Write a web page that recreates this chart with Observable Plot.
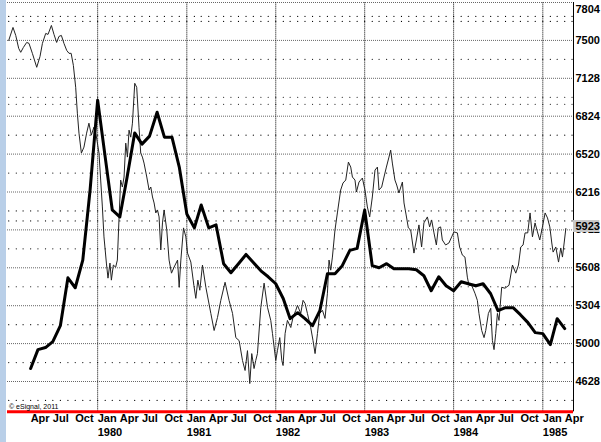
<!DOCTYPE html>
<html><head><meta charset="utf-8">
<script src="https://cdn.jsdelivr.net/npm/d3@7"></script>
<script src="https://cdn.jsdelivr.net/npm/@observablehq/plot@0.6"></script>
<style>
html,body{margin:0;padding:0;background:#fff;}
#wrap{position:relative;width:601px;height:442px;overflow:hidden;}
#edge{position:absolute;left:0;top:0;width:6px;height:442px;background:#b9cfe8;}
</style></head><body>
<div id="wrap"><div id="chart"></div><div id="edge"></div></div>
<script>
// ---- data ----
const yTicks = [4628, 5000, 5304, 5608, 5912, 6216, 6520, 6824, 7128, 7500, 7804];
const yTop = 7804;
const yFloor = 4330;
const minorLevels = [4442, 4814, 5152, 5456, 5760, 6064, 6368, 6672, 6976, 7314, 7652, 7692, 6920, 5984];
const monthNames = ["Jan", "Apr", "Jul", "Oct"];
const lastValue = 5923;

const thickMonths = [
  "1979-04","1979-05","1979-06","1979-07","1979-08","1979-09","1979-10","1979-11","1979-12",
  "1980-01","1980-02","1980-03","1980-04","1980-05","1980-06","1980-07","1980-08","1980-09","1980-10","1980-11","1980-12",
  "1981-01","1981-02","1981-03","1981-04","1981-05","1981-06","1981-07","1981-08","1981-09","1981-10","1981-11","1981-12",
  "1982-01","1982-02","1982-03","1982-04","1982-05","1982-06","1982-07","1982-08","1982-09","1982-10","1982-11","1982-12",
  "1983-01","1983-02","1983-03","1983-04","1983-05","1983-06","1983-07","1983-08","1983-09","1983-10","1983-11","1983-12",
  "1984-01","1984-02","1984-03","1984-04","1984-05","1984-06","1984-07","1984-08","1984-09","1984-10","1984-11","1984-12",
  "1985-01","1985-02","1985-03","1985-04"];
const thickValues = [
  4755, 4941, 4961, 5016, 5144, 5528, 5448, 5670, 6232,
  6952, 6496, 6072, 6016, 6336, 6690, 6600, 6664, 6856, 6656, 6656, 6416,
  6040, 5928, 6112, 5928, 5952, 5641, 5568, 5641, 5715, 5650, 5584, 5536,
  5480, 5360, 5200, 5248, 5200, 5144, 5264, 5560, 5560, 5625, 5748, 5764,
  6072, 5625, 5608, 5641, 5600, 5600, 5600, 5592, 5544, 5424, 5536, 5464,
  5424, 5496, 5480, 5464, 5480, 5400, 5264, 5288, 5288, 5232, 5168, 5088,
  5080, 4990, 5200, 5120];

const thinTime = [
  1979.000,1979.048,1979.079,1979.112,1979.135,1979.165,1979.202,1979.228,1979.266,1979.315,
  1979.352,1979.379,1979.416,1979.442,1979.480,1979.509,1979.539,1979.565,1979.592,1979.621,
  1979.652,1979.678,1979.702,1979.727,1979.753,1979.772,1979.790,1979.817,1979.846,1979.876,
  1979.902,1979.929,1979.958,1979.983,1980.015,1980.034,1980.053,1980.071,1980.098,1980.116,
  1980.138,1980.154,1980.176,1980.202,1980.221,1980.239,1980.258,1980.277,1980.296,1980.315,
  1980.334,1980.352,1980.371,1980.390,1980.416,1980.438,1980.464,1980.483,1980.502,1980.520,
  1980.551,1980.577,1980.596,1980.615,1980.633,1980.652,1980.671,1980.689,1980.708,1980.727,
  1980.745,1980.775,1980.801,1980.828,1980.857,1980.896,1980.914,1980.933,1980.963,1980.989,
  1981.008,1981.045,1981.079,1981.101,1981.124,1981.146,1981.176,1981.214,1981.270,1981.307,
  1981.345,1981.382,1981.430,1981.475,1981.514,1981.551,1981.588,1981.626,1981.655,1981.682,
  1981.708,1981.730,1981.756,1981.775,1981.794,1981.832,1981.869,1981.907,1981.944,1981.963,
  1982.000,1982.019,1982.045,1982.068,1982.082,1982.105,1982.131,1982.169,1982.194,1982.225,
  1982.244,1982.281,1982.307,1982.329,1982.356,1982.393,1982.419,1982.442,1982.469,1982.494,
  1982.525,1982.554,1982.581,1982.599,1982.618,1982.637,1982.666,1982.693,1982.730,1982.756,
  1982.787,1982.817,1982.843,1982.862,1982.891,1982.907,1982.936,1982.974,1983.003,1983.030,
  1983.056,1983.086,1983.116,1983.143,1983.161,1983.191,1983.217,1983.244,1983.273,1983.292,
  1983.311,1983.340,1983.360,1983.385,1983.424,1983.442,1983.466,1983.491,1983.517,1983.554,
  1983.581,1983.610,1983.640,1983.666,1983.705,1983.730,1983.753,1983.779,1983.806,1983.828,
  1983.854,1983.873,1983.910,1983.947,1983.978,1984.003,1984.042,1984.067,1984.098,1984.127,
  1984.154,1984.172,1984.202,1984.239,1984.266,1984.284,1984.315,1984.341,1984.360,1984.390,
  1984.416,1984.435,1984.453,1984.472,1984.491,1984.509,1984.539,1984.576,1984.621,1984.660,
  1984.697,1984.727,1984.753,1984.779,1984.801,1984.831,1984.857,1984.884,1984.913,1984.940,
  1984.966,1984.994,1985.026,1985.053,1985.079,1985.101,1985.116,1985.146,1985.177,1985.202,
  1985.221,1985.240,1985.259];
const thinValue = [
  7500,7604,7540,7422,7383,7431,7480,7471,7373,7236,
  7343,7471,7556,7548,7620,7548,7480,7532,7540,7471,
  7402,7373,7373,7255,7056,6848,6688,6528,6576,6688,
  6768,6672,6736,6672,6528,6312,6096,5856,5646,5525,
  5646,5509,5630,5613,5670,5992,6312,6256,6336,6608,
  6496,6712,6656,6768,7088,7056,6736,6528,6496,6448,
  6336,6232,6256,6176,6128,6048,6072,6016,5751,5968,
  6072,5912,5670,5565,5613,5670,5452,5670,5928,5856,
  5726,5654,5468,5363,5509,5428,5630,5452,5242,5105,
  5210,5347,5492,5347,5242,5048,5024,4834,4736,4931,
  4608,4902,4755,4834,4902,5291,5485,5291,5186,5081,
  4834,4931,5048,4834,4785,5081,5186,5129,5210,5267,
  5307,5242,5347,5323,5242,5129,5024,4902,5081,5242,
  5267,5202,5404,5670,5589,5694,5912,6048,6232,6288,
  6312,6456,6416,6336,6312,6216,6296,6328,6232,6096,
  6016,6176,6392,6416,6232,6256,6336,6416,6496,6552,
  6448,6312,6272,6208,6296,6128,6032,5928,5912,5726,
  5831,5952,5775,5968,6016,5936,5992,5888,5791,5928,
  5936,5831,5791,5807,5856,5896,5888,5775,5710,5694,
  5533,5468,5468,5404,5347,5242,5105,5048,5105,5242,
  5283,5024,4941,5081,5242,5186,5452,5444,5468,5630,
  5565,5630,5775,5791,5888,5888,6048,5856,5968,5896,
  5831,5928,6048,6008,5936,5807,5734,5775,5654,5767,
  5694,5807,5923];

// ---- build ----
function yearToDate(t) {
  const y = Math.floor(t);
  const a = Date.UTC(y, 0, 1), b = Date.UTC(y + 1, 0, 1);
  return new Date(a + (t - y) * (b - a));
}
const xStart = new Date(Date.UTC(1978, 11, 27));
const xEnd = new Date(Date.UTC(1985, 4, 7));
const thin = thinTime.map((t, i) => ({date: yearToDate(t), value: thinValue[i]}));
const thick = thickMonths.map((m, i) => ({date: new Date(m + "-01T00:00:00Z"), value: thickValues[i]}));
const months = d3.utcMonth.range(new Date(Date.UTC(1979, 0, 1)), xEnd);
const quarters = d3.utcMonth.every(3).range(new Date(Date.UTC(1979, 3, 1)), xEnd);
const years = d3.utcYear.range(new Date(Date.UTC(1980, 0, 1)), xEnd);
const minorDots = months.flatMap(d => minorLevels.map(v => ({date: d, value: v})));
const font = {fontSize: 11, fontWeight: "bold", fill: "#000"};

const chart = Plot.plot({
  width: 601, height: 442,
  marginLeft: 7, marginRight: 28, marginTop: 2, marginBottom: 61,
  x: {type: "utc", domain: [xStart, xEnd], axis: null},
  y: {type: "linear", domain: yTicks, axis: null},
  style: {fontFamily: "'Liberation Sans', Arial, sans-serif", background: "transparent"},
  marks: [
    Plot.dot(minorDots, {x: "date", y: "value", r: 0.6, fill: "#000", stroke: null}),
    Plot.ruleY(yTicks, {stroke: "#666", strokeDasharray: "1,1"}),
    Plot.ruleX(years, {y1: yFloor, y2: yTop, stroke: "#000", strokeDasharray: "1,1"}),
    Plot.line(thin, {x: "date", y: "value", stroke: "#222", strokeWidth: 1}),
    Plot.line(thick, {x: "date", y: "value", stroke: "#000", strokeWidth: 3, strokeLinejoin: "round"}),
    Plot.ruleX([xEnd], {y1: yFloor, y2: yTop, stroke: "#000"}),
    Plot.ruleY([yFloor], {stroke: "#ff0000", strokeWidth: 3}),
    Plot.text(yTicks.filter(v => v !== yTop), {y: d => d, text: d => String(d), frameAnchor: "right", textAnchor: "start", dx: 2, ...font}),
    Plot.text([yTop], {y: d => d, text: d => String(d), frameAnchor: "right", textAnchor: "start", dx: 2, dy: 7, ...font}),
    Plot.rect([lastValue], {x1: () => xEnd, x2: () => d3.utcDay.offset(xEnd, 108), y1: d => d - 32, y2: d => d + 64, fill: "#c8c8c8"}),
    Plot.text([lastValue], {y: d => d, text: d => String(d), frameAnchor: "right", textAnchor: "start", dx: 2, dy: -2, ...font}),
    Plot.text(quarters, {x: d => d, text: d => monthNames[d.getUTCMonth() / 3], frameAnchor: "bottom", textAnchor: "start", dy: 40.5, ...font}),
    Plot.text(years, {x: d => d, text: d => String(d.getUTCFullYear()), frameAnchor: "bottom", textAnchor: "start", dy: 54, ...font}),
    Plot.text(["© eSignal, 2011"], {frameAnchor: "bottom-left", textAnchor: "start", dx: 1.5, dy: 27, fontSize: 7, fill: "#000"})
  ]
});
document.getElementById("chart").appendChild(chart);
</script>
</body></html>
